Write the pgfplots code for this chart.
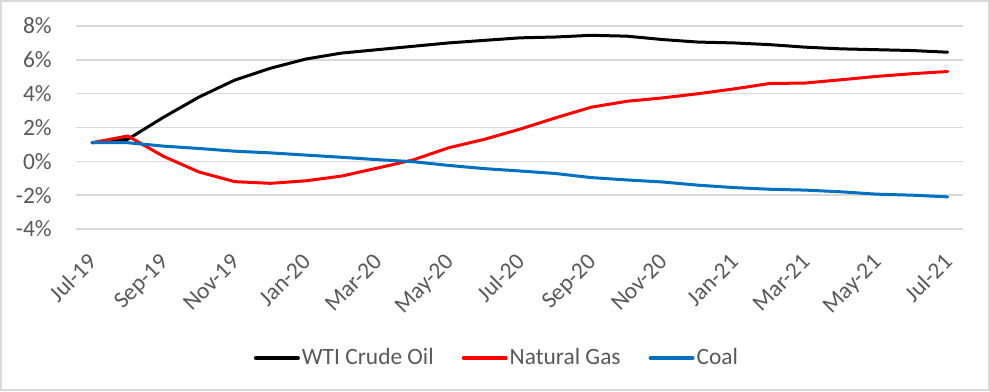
\documentclass[border=0pt]{standalone}
\usepackage{pgfplots}
\pgfplotsset{compat=1.18}
\usepackage{fontspec}
\setmainfont{Carlito}
\definecolor{gridgray}{HTML}{D9D9D9}
\definecolor{txtgray}{HTML}{595959}
\definecolor{coalblue}{HTML}{0070C0}
\begin{document}
\fontsize{11.7}{14}\selectfont
\begin{tikzpicture}
\useasboundingbox (-38pt,-81pt) rectangle (457pt,114.5pt);
\fill[white] (-38pt,-81pt) rectangle (457pt,114.5pt);
\draw[gridgray, line width=1pt] (-37.5pt,-80.5pt) rectangle (456.5pt,114pt);
\begin{axis}[
  at={(0,0)}, anchor=south west,
  scale only axis, width=443.5pt, height=101.5pt,
  xmin=-0.45, xmax=24.43, ymin=-4, ymax=8,
  axis line style={draw=none},
  major tick length=0pt,
  xtick={0,2,...,24},
  xticklabels={Jul-19,Sep-19,Nov-19,Jan-20,Mar-20,May-20,Jul-20,Sep-20,Nov-20,Jan-21,Mar-21,May-21,Jul-21},
  ytick={-4,-2,0,2,4,6,8},
  yticklabels={-4\%,-2\%,0\%,2\%,4\%,6\%,8\%},
  ymajorgrids,
  grid style={gridgray, line width=0.75pt},
  tick label style={font=\fontsize{11.7}{14}\selectfont, text=txtgray},
  yticklabel style={anchor=east, inner sep=0pt, xshift=-12pt},
  xticklabel style={xshift=0.5pt, yshift=-14.5pt, rotate=45, anchor=east, inner sep=0pt, text height=1.6ex, text depth=0.3ex},
  legend style={draw=none, fill=none, at={(0.4746,-0.6356)}, anchor=center,
    legend columns=3, font=\fontsize{11.7}{14}\selectfont, text=txtgray,
    /tikz/every even column/.append style={column sep=13pt},
    nodes={inner sep=1pt}},
  legend image code/.code={\draw[#1, line width=2pt] (0pt,0pt) -- (21pt,0pt);},
  every axis plot/.append style={line width=1.5pt, line join=round, line cap=round},
  clip=false,
]
\addplot[black] coordinates {
(0,1.1) (1,1.3) (2,2.6) (3,3.8) (4,4.8) (5,5.5) (6,6.05) (7,6.4) (8,6.6) (9,6.8)
(10,7.0) (11,7.15) (12,7.3) (13,7.35) (14,7.45) (15,7.4) (16,7.2) (17,7.05) (18,7.0)
(19,6.9) (20,6.75) (21,6.65) (22,6.6) (23,6.55) (24,6.45)};
\addlegendentry{WTI Crude Oil}
\addplot[red] coordinates {
(0,1.1) (1,1.5) (2,0.3) (3,-0.63) (4,-1.2) (5,-1.3) (6,-1.15) (7,-0.87) (8,-0.4) (9,0.08)
(10,0.8) (11,1.3) (12,1.9) (13,2.57) (14,3.2) (15,3.55) (16,3.75) (17,4.0) (18,4.28)
(19,4.6) (20,4.63) (21,4.82) (22,5.02) (23,5.18) (24,5.31)};
\addlegendentry{Natural Gas}
\addplot[coalblue] coordinates {
(0,1.1) (1,1.1) (2,0.9) (3,0.76) (4,0.6) (5,0.5) (6,0.37) (7,0.24) (8,0.1) (9,-0.02)
(10,-0.24) (11,-0.43) (12,-0.57) (13,-0.72) (14,-0.96) (15,-1.1) (16,-1.22) (17,-1.41) (18,-1.55)
(19,-1.65) (20,-1.7) (21,-1.8) (22,-1.94) (23,-2.0) (24,-2.1)};
\addlegendentry{Coal}
\end{axis}
\end{tikzpicture}
\end{document}
